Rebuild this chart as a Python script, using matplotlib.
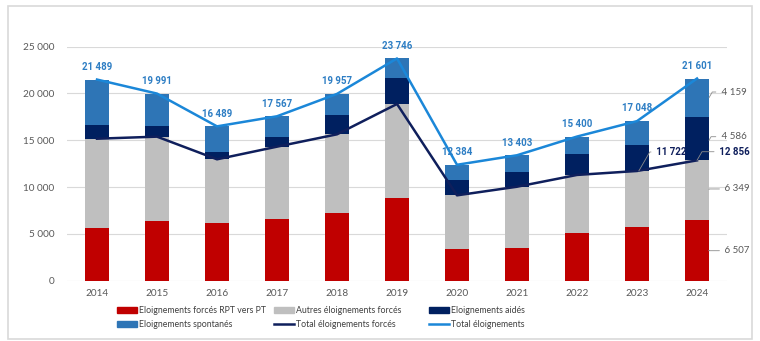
import numpy as np
import matplotlib
matplotlib.use("Agg")
import matplotlib.pyplot as plt
from matplotlib.patches import Rectangle, Patch
from matplotlib.lines import Line2D
from matplotlib.ticker import FuncFormatter

plt.rcParams['font.family'] = ['Lato', 'DejaVu Sans']
BOLD = ['Roboto', 'DejaVu Sans']

years = ['2014', '2015', '2016', '2017', '2018', '2019', '2020', '2021', '2022', '2023', '2024']
rpt = [5630, 6340, 6130, 6590, 7200, 8870, 3350, 3530, 5060, 5770, 6507]
autres = [9540, 9050, 6840, 7730, 8440, 10010, 5770, 6510, 6240, 5952, 6349]
aides = [1460, 1170, 780, 1000, 2100, 2740, 1640, 1610, 2200, 2808, 4586]
spontanes = [4859, 3431, 2739, 2247, 2217, 2126, 1624, 1753, 1900, 2518, 4159]
totals = [21489, 19991, 16489, 17567, 19957, 23746, 12384, 13403, 15400, 17048, 21601]

c_red = '#c00000'
c_gray = '#bfbfbf'
c_navy = '#002060'
c_spont = '#2e75b6'
c_total = '#1b87d8'
c_forced = '#0f1f5c'
c_text = '#595959'


def fmt(v):
    return f'{int(v):,}'.replace(',', ' ')


fig = plt.figure(figsize=(7.6, 3.41), dpi=100)
ax = fig.add_axes([67 / 760, 1 - 280.7 / 341, 660 / 760, 234 / 341])

x = np.arange(len(years))
rpt_a = np.array(rpt)
autres_a = np.array(autres)
aides_a = np.array(aides)
spont_a = np.array(spontanes)
forced = rpt_a + autres_a

w = 0.4
ax.bar(x, rpt_a, w, color=c_red, zorder=2)
ax.bar(x, autres_a, w, bottom=rpt_a, color=c_gray, zorder=2)
ax.bar(x, aides_a, w, bottom=forced, color=c_navy, zorder=2)
ax.bar(x, spont_a, w, bottom=forced + aides_a, color=c_spont, zorder=2)

ax.plot(x, forced, color=c_forced, lw=1.8, zorder=3)
ax.plot(x, totals, color=c_total, lw=1.8, zorder=3)

for xi, t in zip(x, totals):
    ax.text(xi, t + 1350, fmt(t), ha='center', va='center', fontsize=7,
            fontweight='bold', family=BOLD, color='#2e7ec4', zorder=4)

ax.set_xlim(-0.5, 10.5)
ax.set_ylim(0, 25000)
ax.set_xticks(x)
ax.set_xticklabels(years)
ax.set_yticks(np.arange(0, 25001, 5000))
ax.yaxis.set_major_formatter(FuncFormatter(lambda v, p: fmt(v)))
ax.tick_params(length=0, labelsize=7.2, colors=c_text)
ax.tick_params(axis='y', pad=9)
ax.tick_params(axis='x', pad=6)
ax.grid(axis='y', color='#d9d9d9', lw=0.8, zorder=0)
for s in ax.spines.values():
    s.set_visible(False)

# leader labels on the right
lead = dict(arrowstyle='-', color='#8c8c8c', lw=0.6,
            connectionstyle='angle,angleA=0,angleB=60,rad=0', shrinkA=0, shrinkB=0)
side = [
    (fmt(spontanes[-1]), (10.2, 19550), (10.36, 20160)),
    (fmt(aides[-1]), (10.2, 15000), (10.36, 15385)),
    (fmt(autres[-1]), (10.2, 9750), (10.42, 9800)),
    (fmt(rpt[-1]), (10.2, 3250), (10.42, 3205)),
]
for txt, xy, xyt in side:
    ax.annotate(' ' + txt, xy=xy, xytext=xyt, ha='left', va='center', fontsize=7,
                color=c_text, arrowprops=lead, annotation_clip=False)

ax.annotate(' ' + fmt(forced[-1]), xy=(10.0, forced[-1]), xytext=(10.33, 13780),
            ha='left', va='center', fontsize=7, fontweight='bold', family=BOLD,
            color=c_forced, arrowprops=lead, annotation_clip=False)
ax.annotate(' ' + fmt(forced[-2]), xy=(9.03, forced[-2]), xytext=(9.28, 13750),
            ha='left', va='center', fontsize=7, fontweight='bold', family=BOLD,
            color=c_forced, arrowprops=lead, annotation_clip=False)

# legend, three columns placed by hand
cols = [
    ([Patch(color=c_red), Patch(color=c_spont)],
     ['Eloignements forcés RPT vers PT', 'Eloignements spontanés'], 117),
    ([Patch(color=c_gray), Line2D([], [], color=c_forced, lw=1.8)],
     ['Autres éloignements forcés', 'Total éloignements forcés'], 274),
    ([Patch(color=c_navy), Line2D([], [], color=c_total, lw=1.8)],
     ['Eloignements aidés', 'Total éloignements'], 429),
]
for handles, labels, px in cols:
    fig.legend(handles, labels, loc='upper left', bbox_to_anchor=(px / 760, 1 - 306 / 341),
               frameon=False, fontsize=6.3, handlelength=2.3, handleheight=0.6,
               handletextpad=0.2, labelspacing=0.55, borderpad=0, borderaxespad=0,
               labelcolor='#404040')

fig.patches.append(Rectangle((8 / 760, 2 / 341), 744 / 760, 333 / 341,
                             transform=fig.transFigure, fill=False,
                             edgecolor='#d9d9d9', lw=1.2))

fig.savefig('out.png', dpi=100)
